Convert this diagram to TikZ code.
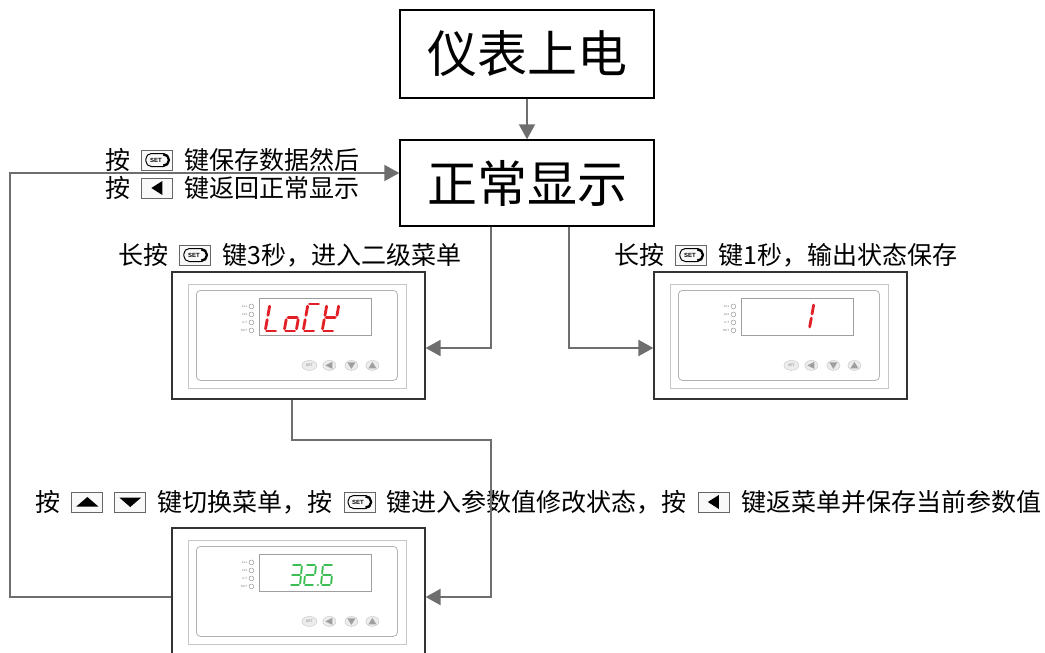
\documentclass[tikz,border=0pt]{standalone}
\usepackage{fontspec}
\setmainfont{Noto Sans CJK SC}
\newfontfamily\latinsans{Liberation Sans}
\usetikzlibrary{arrows.meta,positioning}

\definecolor{conn}{HTML}{6E6E6E}
\definecolor{ledred}{HTML}{E21F26}
\definecolor{ledgreen}{HTML}{3DBE55}

% one seven-segment digit: x, y (top left), then segments a b c d e f g as 0/1
\newcommand\segdigit[9]{%
  \begin{scope}[shift={(#1,#2)},xslant=\segslant,xscale=\segw,yscale=\segh]
    \ifnum#3=1 \draw[ledseg] (0.12,0)--(0.88,0);\fi
    \ifnum#4=1 \draw[ledseg] (1,0.08)--(1,0.42);\fi
    \ifnum#5=1 \draw[ledseg] (1,0.58)--(1,0.92);\fi
    \ifnum#6=1 \draw[ledseg] (0.12,1)--(0.88,1);\fi
    \ifnum#7=1 \draw[ledseg] (0,0.58)--(0,0.92);\fi
    \ifnum#8=1 \draw[ledseg] (0,0.08)--(0,0.42);\fi
    \ifnum#9=1 \draw[ledseg] (0.12,0.5)--(0.88,0.5);\fi
  \end{scope}}

\tikzset{
  title/.style={draw=black, line width=1.4pt, minimum width=254pt,
    inner sep=0pt, font=\fontsize{50}{50}\selectfont},
  link/.style={draw=conn, line width=2pt, -{Triangle[width=16pt,length=15pt]}},
  lbl/.style={inner sep=0pt, font=\fontsize{25}{25}\selectfont},
  keybox/.style={draw=gray!80!black, line width=0.9pt, fill=gray!5,
    minimum width=31pt, minimum height=20pt, inner sep=0pt},
  % the SET key symbol, centred on its key box
  setcap/.pic={
    \draw[black, line width=1pt, rounded corners=5.5pt] (-11.5,-6.5) rectangle (11.5,6.5);
    \draw[black, line width=2.2pt] (6,-5.6) arc[start angle=90, end angle=-90, radius=5.6pt];
    \node[font=\latinsans\bfseries\fontsize{6}{6}\selectfont, inner sep=0pt] (-txt) at (-1.5,0) {SET};
  },
  leftkey/.style={keybox, path picture={
    \fill[black, shift={(path picture bounding box.center)}] (-6,0) -- (5,-7) -- (5,7) -- cycle;}},
  upkey/.style={keybox, path picture={
    \fill[black, shift={(path picture bounding box.center)}] (-11,4.5) -- (11,4.5) -- (0,-5) -- cycle;}},
  downkey/.style={keybox, path picture={
    \fill[black, shift={(path picture bounding box.center)}] (-11,-4.5) -- (11,-4.5) -- (0,5) -- cycle;}},
  meterbox/.style={draw=black!80, line width=1.2pt, minimum width=253pt,
    minimum height=127pt, inner sep=0pt},
  ledseg/.style={draw=ledred, line width=2.8pt, line cap=round},
  % front panel of the controller, drawn from its top left corner
  meter/.pic={
    \draw[gray!45, line width=0.6pt] (17,13) rectangle (235,117);
    \draw[gray!60, line width=0.8pt, rounded corners=4pt] (25,19) rectangle (226,109);
    \draw[gray!75, line width=0.8pt] (88,27) rectangle (200,64);
    \foreach \yy/\lab in {35/AL1,43/AL2,51/A-T,59/OUT}{
      \node[font=\latinsans\fontsize{3}{3}\selectfont, text=gray, inner sep=0pt,
        anchor=east] (-l\lab) at (76,\yy) {\lab};
      \draw[gray!80, line width=0.5pt] (80,\yy) circle (2.4pt);
    }
    \draw[gray!45, fill=gray!15] (138,94) ellipse (7.5pt and 5pt);
    \node[font=\latinsans\fontsize{3.5}{3.5}\selectfont, text=gray, inner sep=0pt] (-set) at (138,94) {SET};
    \draw[gray!45, fill=gray!15] (158,94) ellipse (6.5pt and 5pt);
    \fill[gray!75] (154,94) -- (161,90.5) -- (161,97.5) -- cycle;
    \draw[gray!45, fill=gray!15] (180,94) ellipse (6.5pt and 5pt);
    \fill[gray!75] (176,91) -- (184,91) -- (180,97.5) -- cycle;
    \draw[gray!45, fill=gray!15] (201,94) ellipse (6.5pt and 5pt);
    \fill[gray!75] (197,97) -- (205,97) -- (201,90.5) -- cycle;
  }
}

\begin{document}
\begin{tikzpicture}[x=1pt,y=-1pt]
  \useasboundingbox (0,0) rectangle (1045,653);
  \clip (0,0) rectangle (1045,653);

  % main states
  \node[title, minimum height=88pt] (power) at (527,54) {仪表上电};
  \node[title, minimum height=86pt] (normal) at (527,183) {正常显示};

  % controllers
  \node[meterbox] (dev1) at (298.5,335.5) {};
  \node[meterbox] (dev2) at (780.5,335.5) {};
  \node[meterbox] (dev3) at (298.5,591.5) {};
  \pic (m1) at (dev1.north west) {meter};
  \pic (m2) at (dev2.north west) {meter};
  \pic (m3) at (dev3.north west) {meter};

  % readouts
  \begin{scope}
    \def\segw{12}\def\segh{27}\def\segslant{0.18}
    \segdigit{270}{304}{0}{0}{0}{1}{1}{1}{0}
    \segdigit{289}{304}{0}{0}{1}{1}{1}{0}{1}
    \segdigit{308}{304}{1}{0}{0}{1}{1}{1}{0}
    \segdigit{327}{304}{0}{1}{0}{1}{1}{1}{1}
    \def\segw{12}\def\segh{26}
    \segdigit{802}{303}{0}{1}{1}{0}{0}{0}{0}
  \end{scope}
  \begin{scope}[ledseg/.style={draw=ledgreen, line width=1.9pt, line cap=round}]
    \def\segw{10}\def\segh{20}\def\segslant{0.1}
    \segdigit{292}{565}{1}{1}{1}{1}{0}{0}{1}
    \segdigit{306}{565}{1}{1}{0}{1}{1}{0}{1}
    \fill[ledgreen] (318,585) circle (1.2pt);
    \segdigit{323}{565}{1}{0}{1}{1}{1}{1}{1}
  \end{scope}

  % captions
  \node[lbl, anchor=west] (c1a) at (105,160) {按};
  \node[keybox, right=11pt of c1a] (c1k) {};
  \node[lbl, right=11pt of c1k] (c1b) {键保存数据然后};
  \node[lbl, anchor=west] (c2a) at (105,188) {按};
  \node[leftkey, right=11pt of c2a] (c2k) {};
  \node[lbl, right=11pt of c2k] (c2b) {键返回正常显示};

  \node[lbl, anchor=west] (c3a) at (118,255) {长按};
  \node[keybox, right=11pt of c3a] (c3k) {};
  \node[lbl, right=11pt of c3k] (c3b) {键3秒，进入二级菜单};

  \node[lbl, anchor=west] (c4a) at (614,255) {长按};
  \node[keybox, right=11pt of c4a] (c4k) {};
  \node[lbl, right=11pt of c4k] (c4b) {键1秒，输出状态保存};

  \node[lbl, anchor=west] (c5a) at (35,502) {按};
  \node[upkey, right=11pt of c5a] (c5k1) {};
  \node[downkey, right=11pt of c5k1] (c5k2) {};
  \node[lbl, right=11pt of c5k2] (c5b) {键切换菜单，按};
  \node[keybox, right=11pt of c5b] (c5k3) {};
  \node[lbl, right=11pt of c5k3] (c5c) {键进入参数值修改状态，按};
  \node[leftkey, right=11pt of c5c] (c5k4) {};
  \node[lbl, right=11pt of c5k4] (c5d) {键返菜单并保存当前参数值};

  % SET symbols on their key boxes
  \pic (s1) at (c1k.center) {setcap};
  \pic (s3) at (c3k.center) {setcap};
  \pic (s4) at (c4k.center) {setcap};
  \pic (s5) at (c5k3.center) {setcap};

  % routing points
  \coordinate (colL) at (491,0);
  \coordinate (colR) at (569,0);
  \coordinate (rowA) at (0,348);
  \coordinate (rowC) at (0,597);
  \coordinate (rowD) at (0,173);
  \coordinate (bend) at (292,440);
  \coordinate (loopL) at (10,173);

  % connectors
  \draw[link] (power) -- (normal);
  \draw[link] (normal.south -| colL) |- (dev1.east |- rowA);
  \draw[link] (normal.south -| colR) |- (dev2.west |- rowA);
  \draw[link] (dev1.south -| bend) -- (bend) -| (colL |- rowC) -- (dev3.east |- rowC);
  \draw[link] (dev3.west |- rowC) -| (loopL) -- (normal.west |- rowD);
\end{tikzpicture}
\end{document}
